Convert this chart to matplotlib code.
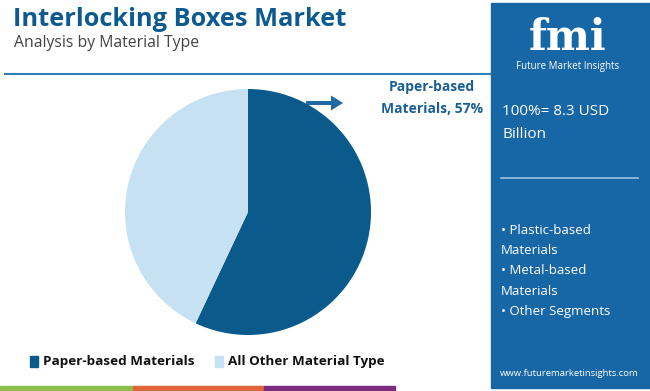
import matplotlib
matplotlib.use("Agg")
import matplotlib.pyplot as plt
from matplotlib.patches import Rectangle, FancyArrow

categories = ["Paper-based Materials", "All Other Material Type"]
values = [57, 43]
colors = ["#0b5a8c", "#c6e2f2"]
title = "Interlocking Boxes Market"
subtitle = "Analysis by Material Type"
callout = "Paper-based\nMaterials, 57%"
total_text = "100%= 8.3 USD\nBillion"
other_segments = "• Plastic-based\nMaterials\n• Metal-based\nMaterials\n• Other Segments"

W, H = 650, 391
fig = plt.figure(figsize=(W/100, H/100), dpi=100)
bg = fig.add_axes([0, 0, 1, 1])
bg.set_xlim(0, W); bg.set_ylim(H, 0); bg.axis("off")

# title
bg.text(13, 20, title, fontsize=18.3, fontweight="bold", color="#0d5a8e",
        family="Open Sans", va="center", ha="left")
bg.text(14, 43, subtitle, fontsize=11.3, color="#444444", family="Open Sans",
        va="center", ha="left")
bg.plot([5, 490], [74, 74], color="#2f7fb8", lw=1.5)

# right panel
bg.add_patch(Rectangle((491, 3), 159, 385, color="#1766a6", zorder=1))
bg.text(568, 50, "fmi", fontsize=30, fontweight="bold", color="white",
        family="DejaVu Serif", ha="center", va="baseline", zorder=2)
bg.text(568, 67, "Future Market Insights", fontsize=7, color="white",
        family="Open Sans", ha="center", va="center", zorder=2)
bg.text(502, 123, total_text, fontsize=11, color="white", family="Open Sans",
        ha="left", va="center", linespacing=1.7, zorder=2)
bg.plot([501, 638], [178, 178], color="#9cc4e4", lw=1.2, zorder=2)
bg.text(501, 271, other_segments, fontsize=9.5, color="white", family="Open Sans",
        ha="left", va="center", linespacing=1.75, zorder=2)
bg.text(569, 373, "www.futuremarketinsights.com", fontsize=6.8, color="white",
        family="Open Sans", ha="center", va="center", zorder=2)

# bottom strips
for x0, x1, c in [(0, 133, "#8dc04a"), (133, 264, "#e0653a"), (264, 395, "#7b2c80")]:
    bg.add_patch(Rectangle((x0, 386), x1 - x0, 5, color=c, zorder=1))

# callout
bg.add_patch(FancyArrow(306, 103, 37, 0, width=4, head_width=15, head_length=12,
                        color="#1f6aa5", length_includes_head=True, lw=0))
bg.text(432, 98, callout, fontsize=10, fontweight="bold", color="#1a5f96",
        family="Open Sans", ha="center", va="center", linespacing=1.7)

# legend
lx = [30, 215]
for x, lab, c in zip(lx, categories, colors):
    bg.add_patch(Rectangle((x, 356), 8, 11, color=c))
    bg.text(x + 13, 362, lab, fontsize=9.7, fontweight="bold", color="#111111",
            family="Open Sans", ha="left", va="center")

# pie
ax = fig.add_axes([125/W, 1 - 335/H, 246/W, 246/H])
ax.pie(values, colors=colors, startangle=90, counterclock=False,
       wedgeprops=dict(linewidth=0))
ax.set_xlim(-1, 1); ax.set_ylim(-1, 1)
ax.set_aspect("equal")

fig.savefig("out.png", dpi=100)
